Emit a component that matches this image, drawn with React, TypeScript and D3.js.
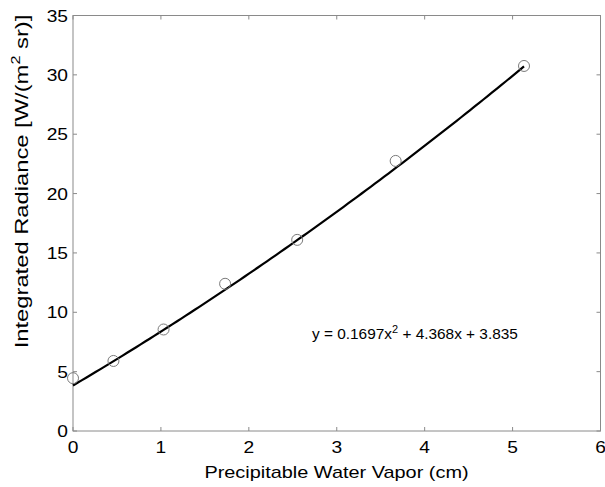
import React from "react";
import * as d3 from "d3";

const pwv = [0, 0.46, 1.03, 1.73, 2.55, 3.67, 5.13];
const radiance = [4.45, 5.9, 8.55, 12.4, 16.1, 22.75, 30.75];
const fitCoeffs = [0.1697, 4.368, 3.835];
const xTicks = [0, 1, 2, 3, 4, 5, 6];
const yTicks = [0, 5, 10, 15, 20, 25, 30, 35];

const W = 605, H = 487;
const L = 73, R = 600.5, T = 15.5, B = 431;
const FONT = "'Liberation Sans', Arial, Helvetica, sans-serif";
const AXIS = "#8a8a8a";
const SX = 1.2;

export default function App() {
  const x = d3.scaleLinear().domain([0, 6]).range([L, R]);
  const y = d3.scaleLinear().domain([0, 35]).range([B, T]);
  const xmax = d3.max(pwv) as number;
  const fitX = d3.range(0, 101).map((i) => (i / 100) * xmax);
  const fit = (v: number) => fitCoeffs[0] * v * v + fitCoeffs[1] * v + fitCoeffs[2];
  const line = d3.line<number>().x((d) => x(d)).y((d) => y(fit(d)));
  const tl = 4;
  return (
    <svg width={W} height={H} style={{ position: "absolute", left: 0, top: 0, background: "#fff" }} fontFamily={FONT}>
      <rect x={L} y={T} width={R - L} height={B - T} fill="none" stroke={AXIS} strokeWidth={1} />
      {xTicks.map((t) => (
        <g key={"x" + t}>
          <line x1={x(t)} x2={x(t)} y1={B} y2={B - tl} stroke={AXIS} />
          <line x1={x(t)} x2={x(t)} y1={T} y2={T + tl} stroke={AXIS} />
          <text transform={`translate(${x(t)},453) scale(${SX},1)`} fontSize={16} textAnchor="middle" fill="#000">{t}</text>
        </g>
      ))}
      {yTicks.map((t) => (
        <g key={"y" + t}>
          <line x1={L} x2={L + tl} y1={y(t)} y2={y(t)} stroke={AXIS} />
          <line x1={R} x2={R - tl} y1={y(t)} y2={y(t)} stroke={AXIS} />
          <text transform={`translate(68,${y(t) + 6}) scale(${SX},1)`} fontSize={16} textAnchor="end" fill="#000">{t}</text>
        </g>
      ))}
      <path d={line(fitX) || ""} fill="none" stroke="#000" strokeWidth={2.2} />
      {pwv.map((v, i) => (
        <circle key={i} cx={x(v)} cy={y(radiance[i])} r={5.5} fill="none" stroke="#7a7a7a" strokeWidth={1} />
      ))}
      <text transform="translate(312,339) scale(1.1,1)" fontSize={14} fill="#000">
        y = 0.1697x<tspan dy={-6} fontSize={10}>2</tspan><tspan dy={6}> + 4.368x + 3.835</tspan>
      </text>
      <text transform="translate(336.5,478) scale(1.17,1)" fontSize={17} textAnchor="middle" fill="#000">Precipitable Water Vapor (cm)</text>
      <text transform={`translate(28,181.5) rotate(-90) scale(1.25,1)`} fontSize={19} textAnchor="middle" fill="#000">
        Integrated Radiance [W/(m<tspan dy={-8} fontSize={13}>2</tspan><tspan dy={8}> sr)]</tspan>
      </text>
    </svg>
  );
}
